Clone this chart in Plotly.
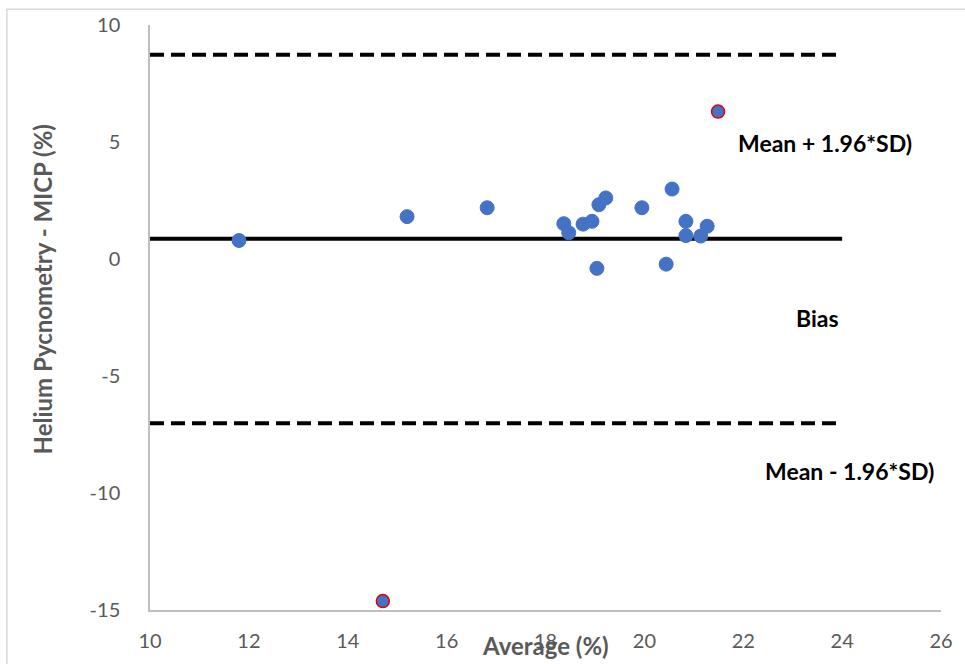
import plotly.graph_objects as go

# Data
avg_pct = [11.8, 15.2, 16.82, 18.37, 18.47, 18.76, 18.94, 19.04, 19.08, 19.22,
           19.95, 20.44, 20.56, 20.84, 20.84, 21.14, 21.27]
diff_pct = [0.79, 1.81, 2.19, 1.51, 1.12, 1.49, 1.61, -0.40, 2.32, 2.61,
            2.19, -0.22, 2.99, 1.61, 1.00, 0.98, 1.40]

outlier_avg = [21.49, 14.71]
outlier_diff = [6.30, -14.62]

bias = 0.87
upper_loa = 8.73
lower_loa = -7.02
line_x = [10, 24]

x_ticks = [10, 12, 14, 16, 18, 20, 22, 24, 26]
x_labels = ["10", "12", "14", "16", "18", "20", "22", "24", "26"]
y_ticks = [-15, -10, -5, 0, 5, 10]
y_labels = ["-15", "-10", "-5", "0", "5", "10"]

blue = "#4472C4"
grey = "#595959"
font_family = "Lato, 'Open Sans', sans-serif"

fig = go.Figure()

fig.add_trace(go.Scatter(x=line_x, y=[upper_loa, upper_loa], mode="lines",
                         line=dict(color="black", width=4, dash="14px,7px"),
                         showlegend=False, hoverinfo="skip"))
fig.add_trace(go.Scatter(x=line_x, y=[lower_loa, lower_loa], mode="lines",
                         line=dict(color="black", width=4, dash="14px,7px"),
                         showlegend=False, hoverinfo="skip"))
fig.add_trace(go.Scatter(x=line_x, y=[bias, bias], mode="lines",
                         line=dict(color="black", width=4),
                         showlegend=False, hoverinfo="skip"))

fig.add_trace(go.Scatter(x=avg_pct, y=diff_pct, mode="markers",
                         marker=dict(color=blue, size=14, line=dict(color=blue, width=1)),
                         showlegend=False))
fig.add_trace(go.Scatter(x=outlier_avg, y=outlier_diff, mode="markers",
                         marker=dict(color=blue, size=13, line=dict(color="#E00000", width=1.5)),
                         showlegend=False))

label_font = dict(family="Lato, sans-serif", size=23, color="black")
fig.add_annotation(x=23.65, y=4.95, text="<b>Mean + 1.96*SD)</b>", showarrow=False,
                   font=label_font, xanchor="center", yanchor="middle")
fig.add_annotation(x=23.51, y=-2.52, text="<b>Bias</b>", showarrow=False,
                   font=label_font, xanchor="center", yanchor="middle")
fig.add_annotation(x=24.15, y=-9.06, text="<b>Mean - 1.96*SD)</b>", showarrow=False,
                   font=label_font, xanchor="center", yanchor="middle")

# Axis titles
fig.add_annotation(xref="paper", yref="paper", x=0, y=0.548, xshift=-108,
                   text="<b>Helium Pycnometry - MICP (%)</b>", textangle=-90,
                   showarrow=False, font=dict(family=font_family, size=24, color=grey),
                   xanchor="center", yanchor="middle")
fig.add_annotation(xref="paper", yref="paper", x=0.5, y=0, yshift=-35,
                   text="<b>Average (%)</b>", showarrow=False,
                   font=dict(family=font_family, size=24, color=grey),
                   xanchor="center", yanchor="middle")

# Chart border
fig.add_shape(type="rect", xref="paper", yref="paper",
              x0=-0.181, x1=1.06, y0=-0.12, y1=1.027,
              line=dict(color="#D9D9D9", width=1.5), layer="below")

fig.update_layout(
    width=965, height=664,
    margin=dict(l=150, r=24, t=24, b=51),
    plot_bgcolor="white", paper_bgcolor="white",
    xaxis=dict(range=[10, 26], tickvals=x_ticks, ticktext=x_labels,
               showgrid=False, zeroline=False,
               showline=True, linecolor="#BFBFBF", linewidth=1.5,
               tickfont=dict(family=font_family, size=20, color=grey),
               ticks="", ticklabelstandoff=12),
    yaxis=dict(range=[-15, 10], tickvals=y_ticks, ticktext=y_labels,
               showgrid=False, zeroline=False,
               showline=True, linecolor="#BFBFBF", linewidth=1.5,
               tickfont=dict(family=font_family, size=20, color=grey),
               ticks="", ticklabelstandoff=24),
)

fig.write_html("out.html")
